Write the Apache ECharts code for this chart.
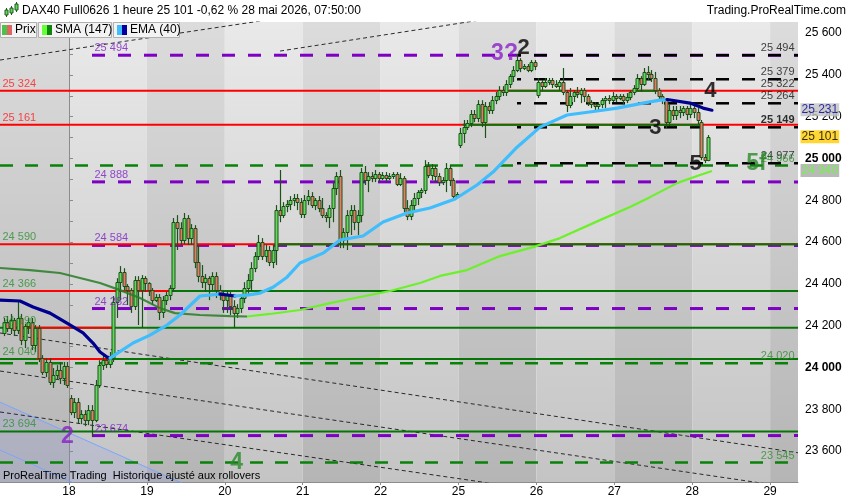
<!DOCTYPE html>
<html><head><meta charset="utf-8">
<script src="https://cdn.jsdelivr.net/npm/echarts@6.0.0/dist/echarts.min.js"></script>
<style>html,body{margin:0;padding:0;background:#fff}#c{width:850px;height:500px}</style>
</head><body><div id="c"></div>
<script>
const FONT = '"Liberation Sans", Arial, sans-serif';
// ---- axis definitions ----
const XMIN = -0.886, XMAX = 9.358;          // trading-day units, "18" = 0
const YMIN = 23452, YMAX = 25653;
const dayLabels = ['18','19','20','21','22','25','26','27','28','29'];
const dayTicks = [0,1,2,3,4,5,6,7,8,9];
const dayEdges = [-0.886,0,1,2,3,4,5,6,7,8,9,9.358];
const yLabelValues = [23600,23800,24000,24200,24400,24600,24800,25000,25200,25400,25600];
const yTickValues = [23500,23600,23700,23800,23900,24000,24100,24200,24300,24400,24500,24600,24700,24800,24900,25000,25100,25200,25300,25400,25500,25600];
const boldAxisValues = [24000, 25000];
const BARS_PER_DAY = 22, FIRST_BAR_OFFSET = 18.5;

// ---- hourly candles [open, close, low, high] ----
const candles = [
// 15
[24165,24217,24150,24237],[24217,24189,24170,24246],[24189,24227,24160,24256],[24227,24179,24150,24237],
[24179,24237,24160,24322],[24237,24131,24107,24256],[24131,24198,24093,24208],[24198,24217,24160,24237],
[24217,24107,24083,24237],[24107,24189,24074,24203],[24189,24045,24026,24203],[24045,23978,23964,24059],
[23978,24026,23954,24045],[24026,23930,23916,24045],[23930,23964,23902,23997],[23964,23987,23940,24011],
[23987,23949,23921,24026],[23949,24007,23916,24026],[24007,23916,23902,24026],
// 18
[23854,23786,23772,23868],[23786,23834,23758,23854],[23834,23758,23734,23854],[23758,23777,23729,23796],
[23777,23748,23719,23796],[23748,23796,23724,23820],[23796,23748,23667,23820],[23748,23916,23738,23940],
[23916,24011,23902,24035],[24011,24035,23988,24059],[24035,24016,23997,24059],[24016,24045,23997,24074],
[24045,24313,24026,24342],[24313,24408,24237,24427],[24408,24456,24322,24485],[24456,24389,24370,24475],
[24389,24370,24299,24399],[24370,24294,24261,24380],[24294,24418,24275,24437],[24418,24370,24203,24437],
[24370,24428,24189,24442],[24428,24404,24361,24437],
// 19
[24404,24370,24342,24408],[24370,24322,24299,24380],[24322,24337,24313,24351],[24337,24265,24227,24351],
[24265,24322,24237,24342],[24322,24346,24299,24361],[24346,24380,24322,24394],[24380,24695,24361,24715],
[24695,24667,24562,24729],[24667,24610,24586,24695],[24610,24715,24590,24739],[24715,24619,24586,24729],
[24619,24667,24586,24686],[24667,24504,24475,24681],[24504,24437,24408,24586],[24437,24408,24380,24490],
[24408,24427,24361,24447],[24427,24399,24322,24437],[24399,24437,24370,24456],[24437,24370,24332,24456],
[24370,24351,24322,24394],[24351,24322,24261,24370],
// 20
[24322,24346,24261,24370],[24346,24294,24251,24361],[24294,24261,24189,24322],[24261,24284,24237,24303],
[24284,24332,24261,24346],[24332,24380,24308,24408],[24380,24418,24346,24447],[24418,24475,24361,24504],
[24475,24533,24456,24552],[24533,24600,24514,24634],[24600,24533,24514,24619],[24533,24562,24504,24586],
[24562,24504,24485,24581],[24504,24562,24475,24586],[24562,24753,24490,24777],[24753,24729,24695,24945],
[24729,24772,24715,24791],[24772,24782,24743,24801],[24782,24801,24753,24820],[24801,24811,24772,24830],
[24811,24791,24753,24830],[24791,24734,24715,24811],
// 21
[24734,24801,24715,24825],[24801,24820,24777,24849],[24820,24777,24763,24839],[24777,24801,24753,24811],
[24801,24763,24743,24820],[24763,24729,24715,24811],[24729,24720,24695,24743],[24720,24763,24667,24777],
[24763,24859,24695,24883],[24859,24916,24825,24935],[24916,24610,24571,24945],[24610,24648,24571,24667],
[24648,24729,24562,24753],[24729,24753,24634,24777],[24753,24695,24657,24777],[24695,24729,24634,24753],
[24729,24935,24695,24954],[24935,24897,24873,24964],[24897,24916,24839,24935],[24916,24906,24887,24935],
[24906,24926,24887,24945],[24926,24906,24887,24935],
// 22
[24906,24921,24897,24935],[24921,24906,24887,24935],[24906,24916,24897,24930],[24916,24926,24902,24935],
[24926,24878,24868,24935],[24878,24906,24868,24930],[24906,24763,24743,24916],[24763,24724,24705,24801],
[24724,24777,24705,24801],[24777,24811,24753,24835],[24811,24839,24777,24849],[24839,24849,24811,24858],
[24849,24964,24830,24992],[24964,24921,24906,24983],[24921,24954,24897,24973],[24954,24916,24887,24968],
[24916,24887,24868,24930],[24887,24897,24873,24911],[24897,24954,24839,24978],[24954,24897,24868,24968],
[24897,24820,24811,24906],[24820,24830,24811,24839],
// 25
[25064,25122,25050,25146],[25122,25150,25074,25184],[25150,25169,25136,25184],[25169,25213,25150,25232],
[25213,25194,25174,25232],[25194,25260,25174,25279],[25260,25174,25150,25279],[25174,25251,25098,25270],
[25251,25232,25213,25270],[25232,25279,25213,25299],[25279,25299,25260,25318],[25299,25327,25279,25346],
[25327,25318,25299,25346],[25318,25356,25299,25375],[25356,25394,25337,25404],[25394,25423,25366,25442],
[25423,25471,25413,25500],[25471,25433,25413,25480],[25433,25442,25423,25452],[25442,25423,25413,25452],
[25423,25461,25413,25471],[25461,25442,25423,25471],
// 26
[25303,25366,25289,25385],[25366,25347,25327,25375],[25347,25366,25337,25385],[25366,25375,25351,25385],
[25375,25356,25337,25385],[25356,25347,25337,25375],[25347,25366,25327,25375],[25366,25318,25303,25433],
[25318,25256,25222,25327],[25256,25299,25241,25337],[25299,25318,25270,25327],[25318,25308,25289,25342],
[25308,25327,25265,25337],[25327,25299,25270,25337],[25299,25270,25251,25308],[25270,25260,25241,25279],
[25260,25251,25232,25270],[25251,25260,25232,25270],[25260,25279,25241,25289],[25279,25289,25241,25299],
[25289,25279,25260,25303],[25279,25299,25270,25318],
// 27
[25299,25289,25270,25308],[25289,25299,25279,25308],[25299,25279,25260,25308],[25279,25294,25265,25313],
[25294,25318,25279,25327],[25318,25337,25303,25351],[25337,25385,25327,25404],[25385,25356,25318,25394],
[25356,25414,25347,25433],[25414,25404,25375,25442],[25404,25385,25366,25423],[25385,25327,25308,25414],
[25327,25299,25279,25337],[25299,25279,25260,25308],[25279,25174,25145,25289],[25174,25232,25155,25260],
[25232,25208,25184,25251],[25208,25232,25184,25251],[25232,25222,25193,25251],[25222,25241,25203,25251],
[25241,25213,25184,25251],[25213,25241,25193,25260],
// 28
[25241,25222,25193,25251],[25222,25184,25165,25241],[25174,25006,24992,25184],[25006,24992,24978,25021],
[24992,25101,24987,25112]
];

// ---- moving averages [time, value] ----
const emaPts = [
[-0.886,24322],[-0.629,24318],[-0.462,24289],[-0.244,24260],[-0.026,24212],[0.180,24165],[0.308,24117],
[0.398,24074],[0.488,24050],[0.526,24045],[0.822,24117],[1.040,24155],[1.258,24203],[1.425,24251],
[1.682,24342],[1.938,24351],[2.131,24342],[2.285,24346],[2.452,24356],[2.619,24384],[2.798,24432],
[2.965,24500],[3.261,24547],[3.479,24610],[3.774,24629],[4.031,24696],[4.339,24739],[4.634,24763],
[4.955,24806],[5.237,24873],[5.443,24935],[5.751,25054],[6.046,25150],[6.393,25208],[6.778,25227],
[7.035,25241],[7.368,25265],[7.587,25279],[7.677,25282],[7.972,25265],[8.139,25241],[8.254,25231]
];
const smaPts = [
[-0.886,24476],[-0.501,24466],[-0.116,24452],[0.141,24428],[0.398,24404],[0.655,24370],[0.911,24332],
[1.168,24284],[1.361,24260],[1.682,24251],[2.067,24246],[2.285,24244],[2.580,24256],[2.965,24275],
[3.351,24308],[3.736,24337],[4.121,24366],[4.506,24404],[4.763,24438],[5.109,24466],[5.533,24533],
[5.956,24576],[6.303,24619],[6.816,24705],[7.201,24768],[7.458,24815],[7.805,24882],[8.100,24921],[8.254,24940]
];

// ---- horizontal levels ----
const redLevels = [25324, 25161, 24590, 24366];
const greenLevels = [24190, 24040, 23694];
const greenDashLevels = [24966, 24020, 23545];
const purpleLevels = [25494, 24888, 24584, 24282, 23674];
const blackLevels = [25494, 25379, 25264, 25149, 24977];
const PURPLE_START = 0.295, BLACK_START = 5.751;
const greenOnRed = [[25324,5.648,6.341],[25324,7.240,7.548],[25161,5.058,8.139],[24590,2.696,9.358],[24366,1.297,9.358]];
const redOnGreen = [[24190,-0.796,0.591],[24040,-0.411,0.526]];
// ---- drawn trend lines ----
const trendLines = [
 [[-0.886,24165],[9.358,23592]],
 [[-0.886,23983],[9.358,23421]],
 [[-0.886,23787],[6.816,23370]],
 [[-0.886,25471],[2.960,25686]],
 [[2.709,25514],[5.533,25677]]
];
const blueUpper = [[-0.886,23834],[1.680,23409]];
const blueLower = [[-0.886,23605],[0.398,23391]];

// ---- labels ----
const leftRedLabels = [25324, 25161];
const leftGreenLabels = [24590, 24366, 24190, 24040, 23694];
const rightBlackLabels = [25494, 25379, 25322, 25264, 25149, 24977];
const boldRightLabels = [25149];
const rightGreenLabels = [24966, 24020, 23545];
const lastEma = 25231, lastClose = 25101, lastSma = 24940;
const purpleNotes = [['3?',5.597,25499],['2',-0.013,23667]];
const blackNotes = [['2',5.841,25526],['4',8.241,25323],['3',7.535,25145],['5',8.049,24971]];
const greenNotes = [['5f',8.832,24973],['4',2.157,23543]];

const fmt = v => String(Math.round(v)).replace(/\B(?=(\d{3})+(?!\d))/g, ' ');

const series = [];
// day bands
const bands = [];
for (let k = 0; k < dayEdges.length - 1; k++) bands.push([dayEdges[k], dayEdges[k+1], YMIN, k % 2]);
series.push({
  type:'custom', z:0, silent:true, data:bands, encode:{x:[0,1], y:2},
  renderItem(params, api){
    const p0 = api.coord([api.value(0), YMAX]);
    const p1 = api.coord([api.value(1), YMIN]);
    const dark = api.value(3) === 0;
    return {type:'rect', shape:{x:p0[0], y:p0[1], width:p1[0]-p0[0], height:p1[1]-p0[1]},
      style:{fill:new echarts.graphic.LinearGradient(0,0,0,1, dark
        ? [{offset:0,color:'#dcdcdc'},{offset:1,color:'#b5b5b5'}]
        : [{offset:0,color:'#e9e9e9'},{offset:1,color:'#c4c4c4'}])}};
  }
});
// blue channel
series.push({type:'line', z:1, silent:true, data:blueUpper, symbol:'none', lineStyle:{color:'#79a6ff', width:1},
  areaStyle:{color:'rgba(110,125,255,0.18)', origin:'start'}});
series.push({type:'line', z:1, silent:true, data:blueLower, symbol:'none', lineStyle:{color:'#79a6ff', width:1}});
// trend lines
trendLines.forEach(t => series.push({type:'line', z:2, silent:true, data:t, symbol:'none',
  lineStyle:{color:'#2a2a2a', width:1, type:[4,3]}}));
function hline(v, x0, x1, color, width, type, z){
  series.push({type:'line', z:z||3, silent:true, data:[[x0,v],[x1,v]], symbol:'none',
    lineStyle:{color, width, type:type||'solid'}});
}
greenDashLevels.forEach(v => hline(v, XMIN, XMAX, '#0a820a', 2.5, [13,12]));
purpleLevels.forEach(v => hline(v, PURPLE_START, XMAX, '#7d00c4', 3, [13,13]));
blackLevels.forEach(v => series.push({type:'line', z:3, silent:true, data:[[BLACK_START,v],[XMAX,v]], symbol:'none',
  lineStyle:{color:'#000', width:2.5, type:[13,13], dashOffset:9}}));
redLevels.forEach(v => hline(v, XMIN, XMAX, '#ff0000', 2));
greenLevels.forEach(v => hline(v, XMIN, XMAX, '#057505', 2));
greenOnRed.forEach(s => hline(s[0], s[1], s[2], '#057505', 2, 'solid', 4));
redOnGreen.forEach(s => hline(s[0], s[1], s[2], '#ff0000', 2, 'solid', 4));

// candles
series.push({
  type:'custom', z:5, silent:true,
  data: candles.map((k,i) => [(i - FIRST_BAR_OFFSET) / BARS_PER_DAY, k[0], k[1], k[2], k[3]]),
  encode:{x:0, y:[1,2,3,4]},
  renderItem(params, api){
    const x = api.value(0), o = api.value(1), c = api.value(2), l = api.value(3), h = api.value(4);
    const pO = api.coord([x,o]), pC = api.coord([x,c]), pL = api.coord([x,l]), pH = api.coord([x,h]);
    const cx = Math.round(pO[0]) + 0.5;
    const top = Math.round(Math.min(pO[1], pC[1])) + 0.5;
    const bot = Math.round(Math.max(pO[1], pC[1])) + 0.5;
    const up = c >= o;
    return {type:'group', children:[
      {type:'line', shape:{x1:cx, y1:pH[1], x2:cx, y2:pL[1]}, style:{stroke:'#1a521a', lineWidth:1.2}},
      {type:'rect', shape:{x:cx-1.5, y:top, width:3, height:Math.max(bot-top,1)},
        style:{fill: up ? '#62d95a' : '#e97a66', stroke:'#1a521a', lineWidth:1}}
    ]};
  }
});

// moving averages split into rising / falling runs
function runs(pts){
  const out = []; let cur = [pts[0]]; let dir = null;
  for (let i = 1; i < pts.length; i++){
    const d = pts[i][1] < pts[i-1][1] ? 'down' : 'up';
    if (dir === null || d === dir){ cur.push(pts[i]); dir = d; }
    else { out.push({dir, pts:cur}); cur = [pts[i-1], pts[i]]; dir = d; }
  }
  out.push({dir, pts:cur});
  return out;
}
runs(smaPts).forEach(r => series.push({type:'line', z:6, silent:true, data:r.pts, symbol:'none',
  lineStyle:{width:2.2, color: r.dir === 'down' ? 'rgba(40,125,40,0.85)' : '#6cf02a'}}));
runs(emaPts).forEach(r => series.push({type:'line', z:6, silent:true, data:r.pts, symbol:'none',
  lineStyle:{width:3.2, cap:'round', join:'round', color: r.dir === 'down' ? '#00008f' : '#3fbdfc'}}));

// text labels
function labelSeries(points, label, z){
  series.push({type:'scatter', z:z||8, silent:true, clip:false, symbolSize:1, itemStyle:{color:'transparent'},
    data:points, label:Object.assign({show:true, fontFamily:FONT}, label)});
}
const lvlLabel = (color, align, pos) => ({position:pos, align, verticalAlign:'bottom', color, fontSize:11,
  formatter:p => boldRightLabels.includes(p.value[1]) ? '{b|' + fmt(p.value[1]) + '}' : fmt(p.value[1]),
  rich:{b:{fontWeight:'bold', fontSize:11, color:'#000', fontFamily:FONT}}});
labelSeries(leftRedLabels.map(v => [XMIN, v]), lvlLabel('#ff1a1a','left',[3,-1]));
labelSeries(leftGreenLabels.map(v => [XMIN, v]), lvlLabel('#2f8f2f','left',[3,-1]));
labelSeries(purpleLevels.map(v => [PURPLE_START, v]), lvlLabel('#7d1fc4','left',[3,-1]));
labelSeries(rightBlackLabels.map(v => [XMAX, v]), lvlLabel('#111','right',[-3,-1]));
labelSeries(rightGreenLabels.map(v => [XMAX, v]), lvlLabel('#2f8f2f','right',[-3,-1]));
// value boxes on the price axis
const boxLabel = (bg, color) => ({position:[3,0], align:'left', verticalAlign:'middle', fontSize:12,
  color, backgroundColor:bg, padding:[1,1,0,1], lineHeight:12, formatter:p => fmt(p.value[1])});
labelSeries([[XMAX, lastEma]], boxLabel('#c2c2c2', '#000099'), 20);
labelSeries([[XMAX, lastClose]], boxLabel('#ffcc00', '#000'), 20);
labelSeries([[XMAX, lastSma]], boxLabel('#a8a8a8', '#66ff33'), 20);
// annotations
const noteLabel = (color, size, weight) => ({position:[0,0], align:'center', verticalAlign:'middle',
  color, fontSize:size, fontWeight:weight, formatter:p => p.value[2]});
labelSeries(purpleNotes.map(n => [n[1], n[2], n[0]]), noteLabel('#8a1fc8', 23, 'bold'), 12);
labelSeries(blackNotes.map(n => [n[1], n[2], n[0]]), noteLabel('#000', 22, 'bold'), 12);
labelSeries(greenNotes.map(n => [n[1], n[2], n[0]]), noteLabel('#2a8a2a', 23, 'bold'), 12);

const chart = echarts.init(document.getElementById('c'), null, {renderer:'canvas'});
chart.setOption({
  animation:false,
  backgroundColor:'#ffffff',
  textStyle:{fontFamily:FONT},
  grid:{left:0, right:52, top:22, bottom:18, containLabel:false},
  xAxis:{type:'value', min:XMIN, max:XMAX,
    axisLine:{show:true, lineStyle:{color:'#8c8c8c'}},
    axisTick:{show:true, length:3, customValues:dayTicks, lineStyle:{color:'#8c8c8c'}},
    axisLabel:{customValues:dayTicks, formatter:v => dayLabels[Math.round(v)], color:'#000', fontSize:12, margin:4, fontFamily:FONT},
    splitLine:{show:false}},
  yAxis:{type:'value', position:'right', min:YMIN, max:YMAX, scale:true,
    axisLine:{show:true, lineStyle:{color:'#8c8c8c'}},
    axisTick:{show:true, length:4, customValues:yTickValues, lineStyle:{color:'#8c8c8c'}},
    axisLabel:{customValues:yLabelValues, color:'#000', fontSize:12, margin:7, fontFamily:FONT,
      formatter:v => boldAxisValues.includes(v) ? '{b|' + fmt(v) + '}' : fmt(v),
      rich:{b:{fontWeight:'bold', fontSize:12, color:'#000', fontFamily:FONT}}},
    splitLine:{show:false}},
  series,
  graphic:[
    {type:'rect', left:0, top:0, z:100, shape:{width:850, height:21}, style:{fill:'#ffffff'}},
    {type:'line', z:101, shape:{x1:6.5, y1:8, x2:6.5, y2:17}, style:{stroke:'#1d5a1d'}},
    {type:'rect', z:102, shape:{x:5, y:10, width:3, height:5}, style:{fill:'#62d95a', stroke:'#1d5a1d'}},
    {type:'line', z:101, shape:{x1:11.5, y1:6, x2:11.5, y2:15}, style:{stroke:'#1d5a1d'}},
    {type:'rect', z:102, shape:{x:10, y:8, width:3, height:5}, style:{fill:'#62d95a', stroke:'#1d5a1d'}},
    {type:'line', z:101, shape:{x1:16.5, y1:2, x2:16.5, y2:12}, style:{stroke:'#1d5a1d'}},
    {type:'rect', z:102, shape:{x:15, y:4, width:3, height:6}, style:{fill:'#62d95a', stroke:'#1d5a1d'}},
    {type:'text', z:102, left:22, top:5, style:{text:'DAX40 Full0626 1 heure 25 101 -0,62 % 28 mai 2026, 07:50:00', font:'12px ' + FONT, fill:'#000'}},
    {type:'text', z:102, right:4, top:5, style:{text:'Trading.ProRealTime.com', font:'12px ' + FONT, fill:'#000'}},
    {type:'rect', z:102, shape:{x:0.5, y:22.5, width:36, height:15}, style:{fill:'#f3f3f3', stroke:'#b0b0b0'}},
    {type:'rect', z:103, shape:{x:2, y:25, width:5, height:10}, style:{fill:'#4cc24c'}},
    {type:'rect', z:103, shape:{x:7, y:25, width:5, height:10}, style:{fill:'#e06464'}},
    {type:'text', z:103, left:15, top:24, style:{text:'Prix', font:'12px ' + FONT, fill:'#000'}},
    {type:'rect', z:102, shape:{x:38.5, y:22.5, width:73, height:15}, style:{fill:'#f3f3f3', stroke:'#b0b0b0'}},
    {type:'rect', z:103, shape:{x:42, y:25, width:5, height:10}, style:{fill:'#66ff33'}},
    {type:'rect', z:103, shape:{x:47, y:25, width:5, height:10}, style:{fill:'#0b860b'}},
    {type:'text', z:103, left:55, top:24, style:{text:'SMA (147)', font:'12px ' + FONT, fill:'#000'}},
    {type:'rect', z:102, shape:{x:113.5, y:22.5, width:66, height:15}, style:{fill:'#f3f3f3', stroke:'#b0b0b0'}},
    {type:'rect', z:103, shape:{x:117, y:25, width:5, height:10}, style:{fill:'#3fbdfc'}},
    {type:'rect', z:103, shape:{x:122, y:25, width:5, height:10}, style:{fill:'#0000a0'}},
    {type:'text', z:103, left:130, top:24, style:{text:'EMA (40)', font:'12px ' + FONT, fill:'#000'}},
    {type:'text', z:103, left:3, top:470, style:{text:'ProRealTime Trading  Historique ajusté aux rollovers', font:'11px ' + FONT, fill:'#000'}}
  ]
});
</script></body></html>
